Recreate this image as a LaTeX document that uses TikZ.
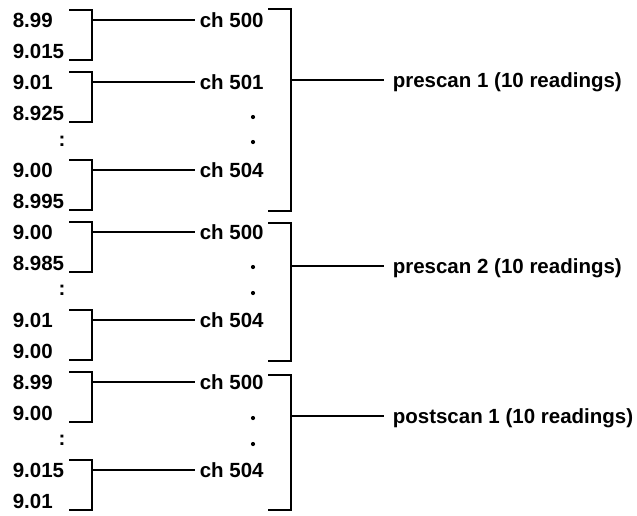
\documentclass[tikz,border=0pt]{standalone}
\usepackage{fontspec}
\setmainfont{Liberation Sans}

\begin{document}
\begin{tikzpicture}[x=1pt, y=-1pt, line width=1.6pt,
  txt/.style={font=\bfseries\fontsize{20.5}{24}\selectfont, inner sep=0pt, anchor=base west},
  chlabel/.style={txt, inner xsep=4pt},
  grplabel/.style={txt, inner xsep=8pt}]
  \useasboundingbox (0,0) rectangle (637,515);
  \foreach \i/\y/\a/\b/\ch in {1/20/8.99/9.015/500, 2/82/9.01/8.925/501, 3/170/9.00/8.995/504,
      4/232/9.00/8.985/500, 5/320/9.01/9.00/504, 6/382/8.99/9.00/500, 7/470/9.015/9.01/504} {
    \node[txt] (v\i a) at (12,\y+7) {\a};
    \node[txt] (v\i b) at (12,\y+38) {\b};
    \draw (69,\y-10) -- (92,\y-10) -- (92,\y+40) -- (69,\y+40);
    \coordinate (s\i) at (92,\y);
    \node[chlabel] (c\i) at (195,\y+7) {ch \ch};
    \draw (s\i) -- (s\i -| c\i.west);
  }
  \foreach \y [count=\k] in {141,290,440}
    \node[txt, anchor=center] (dd\k) at (62,\y) {:};
  \foreach \y in {117,142,267,293,418,444}
    \fill (253,\y) circle (2.1);
  \foreach \k/\t/\b/\m/\lbl in {1/9/211/80/prescan 1, 2/223/361/266/prescan 2, 3/375/510/416/postscan 1} {
    \draw (268,\t) -- (291,\t) -- (291,\b) -- (268,\b);
    \coordinate (p\k) at (291,\m);
    \node[grplabel] (g\k) at (384,\m+7) {\lbl{} (10 readings)};
    \draw (p\k) -- (p\k -| g\k.west);
  }
\end{tikzpicture}
\end{document}
